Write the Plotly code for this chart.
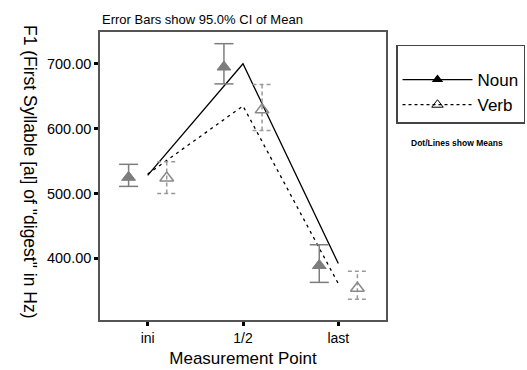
import plotly.graph_objects as go

categories = ["ini", "1/2", "last"]
noun_line = [528, 700, 392]
verb_line = [530, 635, 361]
noun_mean = [525, 695, 389]
noun_low = [511, 669, 363]
noun_high = [545, 731, 421]
verb_mean = [524, 629, 354]
verb_low = [500, 597, 337]
verb_high = [549, 668, 380]

xi = list(range(len(categories)))
off = 0.2
cap = 0.1
gray = "#7d7d7d"
font = "Liberation Sans, Arial, sans-serif"

fig = go.Figure()

# mean lines
fig.add_trace(go.Scatter(x=xi, y=noun_line, mode="lines",
                         line=dict(color="black", width=1.3), showlegend=False))
fig.add_trace(go.Scatter(x=xi, y=verb_line, mode="lines",
                         line=dict(color="black", width=1.3, dash="3px,4px"), showlegend=False))

def err_xy(xs, lo, hi):
    X, Y = [], []
    for x, l, h in zip(xs, lo, hi):
        X += [x, x, None, x - cap, x + cap, None, x - cap, x + cap, None]
        Y += [l, h, None, l, l, None, h, h, None]
    return X, Y

nx = [x - off for x in xi]
vx = [x + off for x in xi]

X, Y = err_xy(nx, noun_low, noun_high)
fig.add_trace(go.Scatter(x=X, y=Y, mode="lines", line=dict(color=gray, width=1.5), showlegend=False))
X, Y = err_xy(vx, verb_low, verb_high)
fig.add_trace(go.Scatter(x=X, y=Y, mode="lines", line=dict(color="#9a9a9a", width=1.5, dash="4px,3px"),
                         showlegend=False))

fig.add_trace(go.Scatter(x=nx, y=noun_mean, mode="markers",
                         marker=dict(symbol="triangle-up", size=12, color=gray, line=dict(color=gray, width=1)),
                         showlegend=False))
fig.add_trace(go.Scatter(x=vx, y=verb_mean, mode="markers",
                         marker=dict(symbol="triangle-up-open", size=12, color="#8a8a8a", line=dict(width=1.5)),
                         showlegend=False))

# legend entries
fig.add_trace(go.Scatter(x=[None], y=[None], mode="lines+markers", name="Noun",
                         line=dict(color="black", width=1.3),
                         marker=dict(symbol="triangle-up", size=10, color="black")))
fig.add_trace(go.Scatter(x=[None], y=[None], mode="lines+markers", name="Verb",
                         line=dict(color="black", width=1.3, dash="3px,3px"),
                         marker=dict(symbol="triangle-up-open", size=10, color="black")))

fig.update_layout(
    width=527, height=370,
    margin=dict(l=100, r=141, t=32, b=50, autoexpand=False),
    plot_bgcolor="white", paper_bgcolor="white",
    font=dict(family=font, color="black", size=12),
    legend=dict(x=1.035, y=0.955, xanchor="left", yanchor="top",
                bordercolor="#444444", borderwidth=1.5, font=dict(size=17),
                title=dict(text=" ", font=dict(size=12)),
                itemwidth=70, tracegroupgap=0, bgcolor="white"),
    xaxis=dict(range=[-0.5, 2.5], tickmode="array", tickvals=xi, ticktext=categories,
               showgrid=False, zeroline=False, showline=True, mirror=True,
               linecolor="#555555", linewidth=1.5, ticks="outside", ticklen=4, tickwidth=3,
               tickcolor="black", tickfont=dict(size=14),
               title=dict(text="Measurement Point", font=dict(size=17), standoff=8)),
    yaxis=dict(range=[305, 749], tickvals=[400, 500, 600, 700],
               ticktext=["400.00", "500.00", "600.00", "700.00"],
               showgrid=False, zeroline=False, showline=True, mirror=True,
               linecolor="#555555", linewidth=1.5, ticks="outside", ticklen=4, tickwidth=3,
               tickcolor="black", tickfont=dict(size=14.5)),
)

fig.add_annotation(text="Error Bars show 95.0% CI of Mean", xref="paper", yref="paper",
                   x=0, y=1.0, xanchor="left", yanchor="bottom", yshift=3, showarrow=False,
                   font=dict(size=13))
fig.add_annotation(text='F1 (First Syllable [al] of "digest" in Hz)', xref="paper", yref="paper",
                   x=0, xshift=-82, y=0.5, yshift=5, textangle=90, showarrow=False, font=dict(size=17.5))
fig.add_annotation(text="<b>Dot/Lines show Means</b>", xref="paper", yref="paper",
                   x=1.08, y=0.615, xanchor="left", yanchor="middle", showarrow=False,
                   font=dict(size=8.5))

fig.write_html("out.html", config={"displayModeBar": False},
               post_script="document.body.style.margin='0';document.body.style.padding='0';")
